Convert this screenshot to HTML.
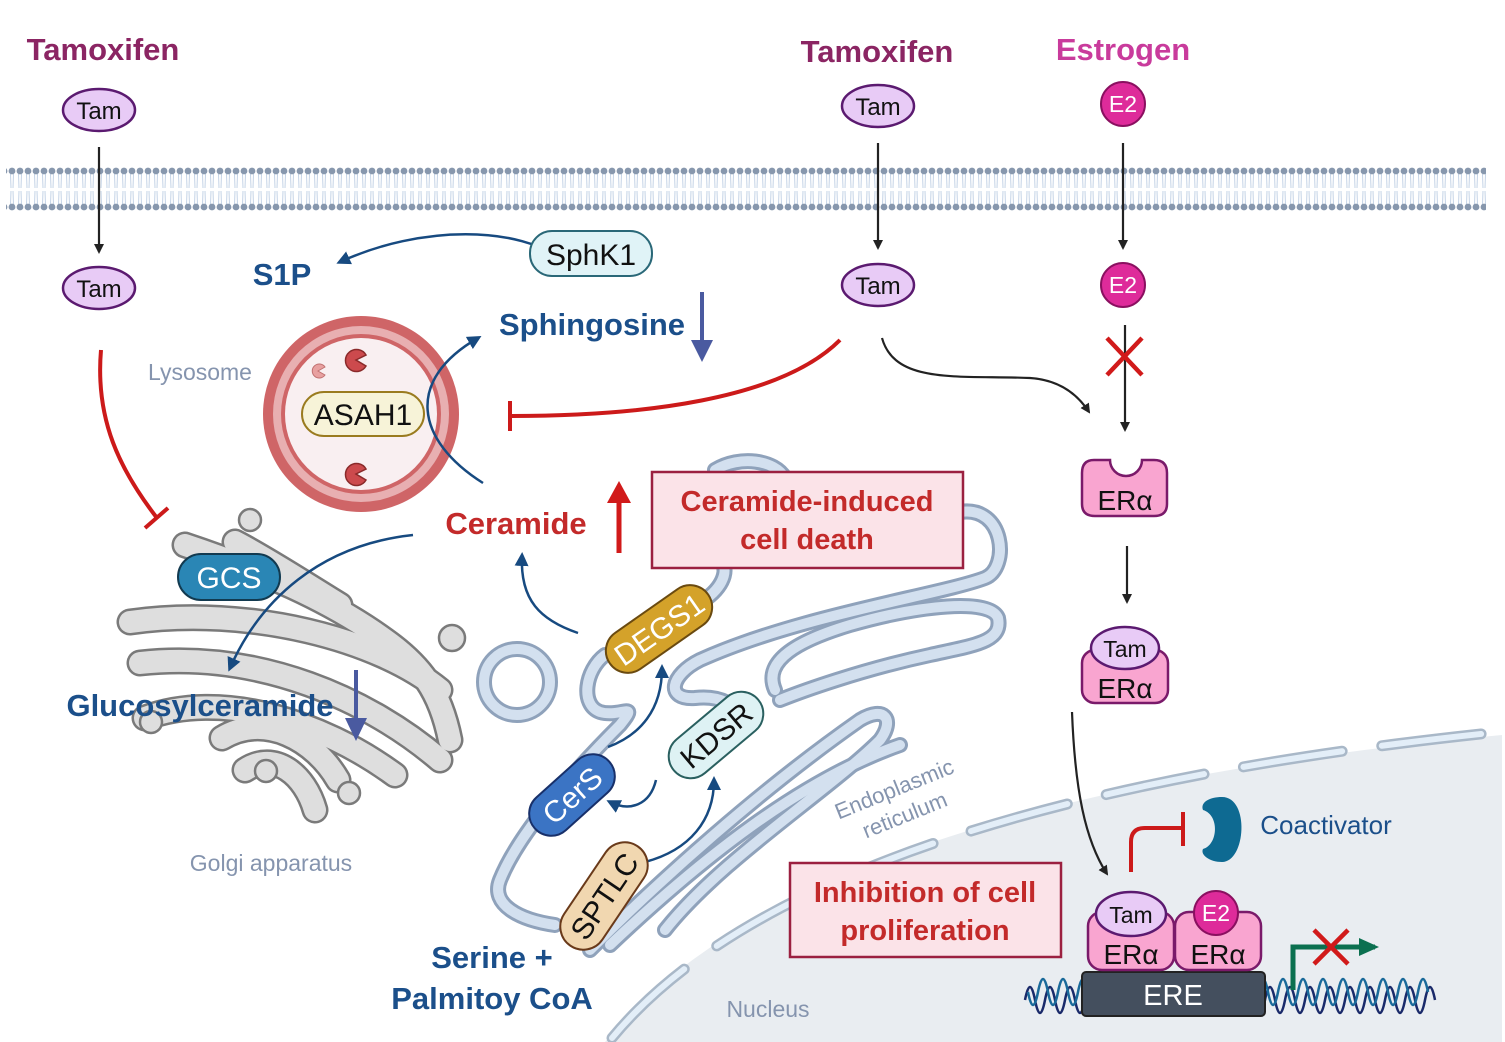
<!DOCTYPE html>
<html><head><meta charset="utf-8"><style>
html,body{margin:0;padding:0;background:#fff;}
svg{display:block;font-family:"Liberation Sans",sans-serif;}
.b{font-weight:bold;}
</style></head><body>
<svg width="1505" height="1042" viewBox="0 0 1505 1042" xmlns="http://www.w3.org/2000/svg">
<defs>
<marker id="ak" markerWidth="10" markerHeight="10" refX="8" refY="5" orient="auto" markerUnits="userSpaceOnUse"><path d="M0,0 L10,5 L0,10 Z" fill="#222"/></marker>
<marker id="ab" markerWidth="14" markerHeight="14" refX="10" refY="7" orient="auto" markerUnits="userSpaceOnUse"><path d="M0,0 L14,7 L0,14 Z" fill="#174a80"/></marker>
<marker id="ag" markerWidth="20" markerHeight="18" refX="16" refY="9" orient="auto" markerUnits="userSpaceOnUse"><path d="M0,0 L20,9 L0,18 Z" fill="#0b7050"/></marker>
<pattern id="mem" x="8" y="0" width="8" height="1042" patternUnits="userSpaceOnUse">
<line x1="2.5" y1="174" x2="3" y2="188" stroke="#c4d3e6" stroke-width="1"/>
<line x1="5.5" y1="174" x2="5" y2="188" stroke="#c4d3e6" stroke-width="1"/>
<line x1="3" y1="191" x2="2.5" y2="205" stroke="#c4d3e6" stroke-width="1"/>
<line x1="5" y1="191" x2="5.5" y2="205" stroke="#c4d3e6" stroke-width="1"/>
<circle cx="4" cy="171" r="3.4" fill="#8797ad"/>
<circle cx="4" cy="207" r="3.4" fill="#8797ad"/>
</pattern>
</defs>

<!-- nucleus -->
<path d="M605,1042 Q800,800 1502,735 L1502,1042 Z" fill="#e9edf1"/>
<path d="M612,1038 Q805,805 1490,733" fill="none" stroke="#a9b8c8" stroke-width="11" stroke-dasharray="100,40" stroke-linecap="round"/>
<path d="M612,1038 Q805,805 1490,733" fill="none" stroke="#e3eef8" stroke-width="6" stroke-dasharray="100,40" stroke-linecap="round"/>

<!-- membrane -->
<rect x="6" y="165" width="1480" height="48" fill="url(#mem)"/>

<!-- Golgi -->
<g fill="none" stroke-linecap="round">
<g stroke="#7a7a7a" stroke-width="27">
<path d="M185,545 C260,570 330,600 385,640 C420,665 440,690 450,740"/>
<path d="M235,542 C260,555 300,580 340,605"/>
<path d="M130,622 C250,605 380,640 440,690"/>
<path d="M140,663 C260,650 370,700 440,760"/>
<path d="M145,718 C220,690 320,720 395,775"/>
<path d="M222,738 C265,712 315,740 338,780"/>
<path d="M245,770 C275,750 305,775 315,810"/>
</g>
<g stroke="#dedede" stroke-width="22">
<path d="M185,545 C260,570 330,600 385,640 C420,665 440,690 450,740"/>
<path d="M235,542 C260,555 300,580 340,605"/>
<path d="M130,622 C250,605 380,640 440,690"/>
<path d="M140,663 C260,650 370,700 440,760"/>
<path d="M145,718 C220,690 320,720 395,775"/>
<path d="M222,738 C265,712 315,740 338,780"/>
<path d="M245,770 C275,750 305,775 315,810"/>
</g>
</g>
<g fill="#dedede" stroke="#7a7a7a" stroke-width="2.5">
<circle cx="250" cy="520" r="11"/><circle cx="452" cy="638" r="13"/><circle cx="151" cy="722" r="11"/><circle cx="266" cy="771" r="11"/><circle cx="349" cy="793" r="11"/>
</g>
<text x="271" y="871" font-size="23" fill="#8594ae" text-anchor="middle">Golgi apparatus</text>

<!-- ER -->
<g fill="none" stroke-linecap="round">
<g stroke="#8fa2bb" stroke-width="16">
<circle cx="517" cy="682" r="33"/>
<path d="M715,470 C740,455 775,460 785,478"/>
<path d="M960,512 C1005,505 1010,568 985,578 C940,595 800,615 700,660 C670,675 665,700 695,698 C720,695 738,705 745,722"/>
<path d="M775,690 C762,660 800,640 850,625 C920,605 990,598 998,618 C1003,642 975,645 930,655 C860,670 800,692 780,700"/>
<path d="M605,655 C585,670 580,705 600,712 C620,718 640,700 620,725 C580,765 520,830 500,880 C490,905 520,920 555,925"/>
<path d="M590,950 C660,880 760,790 860,720 C885,705 895,720 880,740 C830,790 720,860 665,930"/>
<path d="M610,945 C700,860 800,780 900,745"/>
<path d="M707,598 C725,585 730,565 718,560"/>
</g>
<g stroke="#d3e0ef" stroke-width="10">
<circle cx="517" cy="682" r="33"/>
<path d="M715,470 C740,455 775,460 785,478"/>
<path d="M960,512 C1005,505 1010,568 985,578 C940,595 800,615 700,660 C670,675 665,700 695,698 C720,695 738,705 745,722"/>
<path d="M775,690 C762,660 800,640 850,625 C920,605 990,598 998,618 C1003,642 975,645 930,655 C860,670 800,692 780,700"/>
<path d="M605,655 C585,670 580,705 600,712 C620,718 640,700 620,725 C580,765 520,830 500,880 C490,905 520,920 555,925"/>
<path d="M590,950 C660,880 760,790 860,720 C885,705 895,720 880,740 C830,790 720,860 665,930"/>
<path d="M610,945 C700,860 800,780 900,745"/>
<path d="M707,598 C725,585 730,565 718,560"/>
</g>
</g>
<text transform="translate(897,796) rotate(-22)" font-size="22" fill="#8594ae" text-anchor="middle"><tspan x="0" y="0">Endoplasmic</tspan><tspan x="0" y="28">reticulum</tspan></text>

<!-- Lysosome -->
<circle cx="361" cy="414" r="98" fill="#cf6567"/>
<circle cx="361" cy="414" r="88" fill="#e8afb1"/>
<circle cx="361" cy="414" r="80" fill="#cf6567"/>
<circle cx="361" cy="414" r="76" fill="#f9eff1"/>
<path d="M356,360 L366,355 A11,11 0 1 0 366,366 Z" fill="#cc4a4d" stroke="#8a2a2a" stroke-width="1.5"/>
<path d="M318,371 L325,367 A7,7 0 1 0 325,375 Z" fill="#e8a0a0" stroke="#c07070" stroke-width="1"/>
<path d="M356,474 L366,469 A11,11 0 1 0 366,480 Z" fill="#cc4a4d" stroke="#8a2a2a" stroke-width="1.5"/>
<rect x="302" y="392" width="122" height="44" rx="22" fill="#f7f3d8" stroke="#9a7b1f" stroke-width="2"/>
<text x="363" y="425" font-size="30" text-anchor="middle" fill="#111">ASAH1</text>
<text x="200" y="380" font-size="23" fill="#8594ae" text-anchor="middle">Lysosome</text>

<!-- Top labels -->
<text x="103" y="60" font-size="31" class="b" fill="#8b2563" text-anchor="middle">Tamoxifen</text>
<text x="877" y="62" font-size="31" class="b" fill="#8b2563" text-anchor="middle">Tamoxifen</text>
<text x="1123" y="60" font-size="31" class="b" fill="#c93b9c" text-anchor="middle">Estrogen</text>

<!-- Tam/E2 molecules -->
<g fill="#e8cbf6" stroke="#5b1a70" stroke-width="2.5">
<ellipse cx="99" cy="110" rx="36" ry="21"/><ellipse cx="99" cy="288" rx="36" ry="21"/>
<ellipse cx="878" cy="106" rx="36" ry="21"/><ellipse cx="878" cy="285" rx="36" ry="21"/>
</g>
<g font-size="24" text-anchor="middle" fill="#111">
<text x="99" y="119">Tam</text><text x="99" y="297">Tam</text><text x="878" y="115">Tam</text><text x="878" y="294">Tam</text>
</g>
<g fill="#de2b9a" stroke="#8a1060" stroke-width="2"><circle cx="1123" cy="104" r="22"/><circle cx="1123" cy="285" r="22"/></g>
<g font-size="23" text-anchor="middle" fill="#fff"><text x="1123" y="112">E2</text><text x="1123" y="293">E2</text></g>

<!-- black arrows -->
<g stroke="#222" stroke-width="2.2" fill="none" marker-end="url(#ak)">
<line x1="99" y1="147" x2="99" y2="252"/>
<line x1="878" y1="143" x2="878" y2="248"/>
<line x1="1123" y1="143" x2="1123" y2="248"/>
<line x1="1125" y1="325" x2="1125" y2="430"/>
<line x1="1127" y1="546" x2="1127" y2="602"/>
<path d="M882,338 C895,385 960,375 1030,378 C1060,380 1078,395 1089,412"/>
<path d="M1072,712 C1075,790 1085,840 1107,874"/>
</g>
<g stroke="#d11a1a" stroke-width="4.5"><line x1="1107" y1="338" x2="1142" y2="375"/><line x1="1142" y1="338" x2="1107" y2="375"/></g>

<!-- ERa receptor -->
<path d="M1094,460 L1110,460 A16,16 0 0 0 1142,460 L1154,460 Q1167,460 1167,473 L1167,504 Q1167,516 1154,516 L1095,516 Q1082,516 1082,504 L1082,473 Q1082,460 1094,460 Z" fill="#f9a5d0" stroke="#7a1a6a" stroke-width="2.5"/>
<text x="1125" y="510" font-size="28" text-anchor="middle" fill="#111">ERα</text>
<rect x="1082" y="650" width="86" height="53" rx="13" fill="#f9a5d0" stroke="#7a1a6a" stroke-width="2.5"/>
<ellipse cx="1125" cy="648" rx="34" ry="21" fill="#e8cbf6" stroke="#5b1a70" stroke-width="2.5"/>
<text x="1125" y="657" font-size="23" text-anchor="middle" fill="#111">Tam</text>
<text x="1125" y="698" font-size="28" text-anchor="middle" fill="#111">ERα</text>

<!-- red inhibitions -->
<g stroke="#cc1a1a" stroke-width="4" fill="none">
<path d="M840,340 C780,400 640,416 512,416"/>
<line x1="510" y1="401" x2="510" y2="431"/>
<path d="M101,350 C95,420 120,470 157,518"/>
<line x1="145" y1="528" x2="168" y2="508"/>
<path d="M1131,872 L1131,842 Q1131,828 1145,828 L1182,828"/>
<line x1="1183" y1="812" x2="1183" y2="846"/>
</g>

<!-- S1P / SphK1 / Sphingosine -->
<path d="M565,262 C520,225 420,225 340,262" fill="none" stroke="#174a80" stroke-width="2.5" marker-end="url(#ab)"/>
<text x="282" y="285" font-size="31" class="b" fill="#1b4f8a" text-anchor="middle">S1P</text>
<rect x="530" y="231" width="122" height="45" rx="22" fill="#e0f3f7" stroke="#2a6878" stroke-width="2"/>
<text x="591" y="265" font-size="30" text-anchor="middle" fill="#111">SphK1</text>
<text x="592" y="335" font-size="31" class="b" fill="#1b4f8a" text-anchor="middle">Sphingosine</text>
<line x1="702" y1="292" x2="702" y2="345" stroke="#4a5aa0" stroke-width="4"/>
<path d="M691,340 L713,340 L702,362 Z" fill="#4a5aa0"/>

<!-- Ceramide -->
<path d="M483,483 C415,440 405,380 478,338" fill="none" stroke="#174a80" stroke-width="2.5" marker-end="url(#ab)"/>
<text x="516" y="534" font-size="31" class="b" fill="#c32a2a" text-anchor="middle">Ceramide</text>
<line x1="619" y1="553" x2="619" y2="500" stroke="#d11a1a" stroke-width="5"/>
<path d="M607,503 L631,503 L619,481 Z" fill="#d11a1a"/>
<rect x="652" y="472" width="311" height="96" fill="#fbe3e8" stroke="#9b2040" stroke-width="2.5"/>
<text font-size="29" class="b" fill="#c32a2a" text-anchor="middle"><tspan x="807" y="511">Ceramide-induced</tspan><tspan x="807" y="549">cell death</tspan></text>

<!-- Glucosylceramide -->
<path d="M413,535 C320,545 260,600 230,668" fill="none" stroke="#174a80" stroke-width="2.5" marker-end="url(#ab)"/>
<rect x="178" y="554" width="102" height="46" rx="23" fill="#2a86b5" stroke="#123a50" stroke-width="2"/>
<text x="229" y="588" font-size="30" text-anchor="middle" fill="#fff">GCS</text>
<text x="200" y="716" font-size="31" class="b" fill="#1b4f8a" text-anchor="middle">Glucosylceramide</text>
<line x1="356" y1="670" x2="356" y2="722" stroke="#4a5aa0" stroke-width="4"/>
<path d="M345,718 L367,718 L356,741 Z" fill="#4a5aa0"/>

<!-- enzyme arrows -->
<g fill="none" stroke="#174a80" stroke-width="2.5" marker-end="url(#ab)">
<path d="M578,633 C540,620 520,600 522,556"/>
<path d="M608,747 C640,735 662,710 662,668"/>
<path d="M656,780 C650,805 630,812 610,802"/>
<path d="M645,862 C690,850 714,820 714,780"/>
</g>

<!-- enzymes -->
<g transform="translate(659,629) rotate(-35)"><rect x="-60" y="-22" width="120" height="44" rx="22" fill="#d4a22a" stroke="#6a4a10" stroke-width="2"/><text y="11" font-size="30" text-anchor="middle" fill="#fff">DEGS1</text></g>
<g transform="translate(572,795) rotate(-42)"><rect x="-50" y="-22" width="100" height="44" rx="22" fill="#3b74c4" stroke="#18306a" stroke-width="2"/><text y="11" font-size="30" text-anchor="middle" fill="#fff">CerS</text></g>
<g transform="translate(716,735) rotate(-40)"><rect x="-55" y="-22" width="110" height="44" rx="22" fill="#def2f4" stroke="#2a6060" stroke-width="2"/><text y="11" font-size="30" text-anchor="middle" fill="#111">KDSR</text></g>
<g transform="translate(604,896) rotate(-56)"><rect x="-60" y="-23" width="120" height="46" rx="23" fill="#f1d7b0" stroke="#6a3a1a" stroke-width="2"/><text y="11" font-size="30" text-anchor="middle" fill="#111">SPTLC</text></g>

<text font-size="31" class="b" fill="#1b4f8a" text-anchor="middle"><tspan x="492" y="968">Serine +</tspan><tspan x="492" y="1009">Palmitoy CoA</tspan></text>

<!-- Inhibition box -->
<rect x="790" y="863" width="271" height="94" fill="#fbe3e8" stroke="#9b2040" stroke-width="2.5"/>
<text font-size="29" class="b" fill="#c32a2a" text-anchor="middle"><tspan x="925" y="902">Inhibition of cell</tspan><tspan x="925" y="940">proliferation</tspan></text>
<text x="768" y="1017" font-size="23" fill="#8594ae" text-anchor="middle">Nucleus</text>

<!-- coactivator -->
<path d="M1222,797 C1250,797 1246,862 1222,862 C1210,862 1200,855 1203,849 C1218,845 1220,815 1203,810 C1200,802 1210,797 1222,797 Z" fill="#0e6a92"/>
<text x="1326" y="834" font-size="26" fill="#1b4f8a" text-anchor="middle">Coactivator</text>

<!-- DNA -->
<path d="M1025,1000 q5,-26 10,0 t10,0 t10,0 t10,0 t10,0 t10,0 t10,0 t10,0 t10,0 t10,0 t10,0 t10,0 t10,0 t10,0 t10,0 t10,0 t10,0 t10,0 t10,0 t10,0 t10,0 t10,0 t10,0 t10,0 t10,0 t10,0 t10,0 t10,0 t10,0 t10,0 t10,0 t10,0 t10,0 t10,0 t10,0 t10,0 t10,0 t10,0 t10,0 t10,0 t10,0" fill="none" stroke="#1a2a6a" stroke-width="2.5"/>
<path d="M1028,992 q5,26 10,0 t10,0 t10,0 t10,0 t10,0 t10,0 t10,0 t10,0 t10,0 t10,0 t10,0 t10,0 t10,0 t10,0 t10,0 t10,0 t10,0 t10,0 t10,0 t10,0 t10,0 t10,0 t10,0 t10,0 t10,0 t10,0 t10,0 t10,0 t10,0 t10,0 t10,0 t10,0 t10,0 t10,0 t10,0 t10,0 t10,0 t10,0 t10,0 t10,0" fill="none" stroke="#1a6a9a" stroke-width="2.5"/>
<rect x="1082" y="972" width="183" height="44" rx="4" fill="#444f5e" stroke="#222" stroke-width="2"/>
<text x="1173" y="1005" font-size="29" text-anchor="middle" fill="#fff">ERE</text>

<!-- ERa dimer -->
<rect x="1088" y="912" width="86" height="58" rx="14" fill="#f9a5d0" stroke="#7a1a6a" stroke-width="2.5"/>
<rect x="1175" y="912" width="86" height="58" rx="14" fill="#f9a5d0" stroke="#7a1a6a" stroke-width="2.5"/>
<ellipse cx="1131" cy="914" rx="35" ry="22" fill="#e8cbf6" stroke="#5b1a70" stroke-width="2.5"/>
<text x="1131" y="923" font-size="23" text-anchor="middle" fill="#111">Tam</text>
<circle cx="1216" cy="913" r="22" fill="#de2b9a" stroke="#8a1060" stroke-width="2"/>
<text x="1216" y="921" font-size="23" text-anchor="middle" fill="#fff">E2</text>
<text x="1131" y="964" font-size="28" text-anchor="middle" fill="#111">ERα</text>
<text x="1218" y="964" font-size="28" text-anchor="middle" fill="#111">ERα</text>

<!-- green arrow -->
<path d="M1293,990 L1293,947 L1375,947" fill="none" stroke="#0b7050" stroke-width="5" marker-end="url(#ag)"/>
<g stroke="#d11a1a" stroke-width="4.5"><line x1="1314" y1="930" x2="1348" y2="964"/><line x1="1348" y1="930" x2="1314" y2="964"/></g>
</svg>
</body></html>
